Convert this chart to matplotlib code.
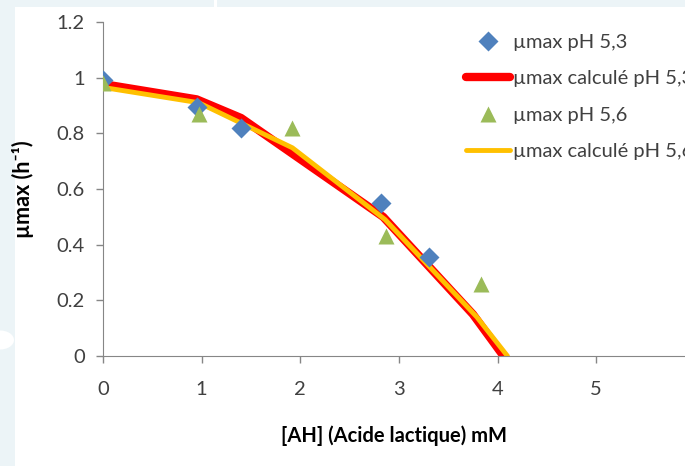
import matplotlib.pyplot as plt
from matplotlib.patches import Rectangle, Circle

# ---------- data ----------
x_ph53 = [0, 0.95, 1.40, 2.82, 3.30]
mu_ph53 = [0.99, 0.895, 0.82, 0.55, 0.355]

x_ph56 = [0, 0.97, 1.92, 2.87, 3.83]
mu_ph56 = [0.98, 0.87, 0.82, 0.43, 0.26]

x_calc53 = [0, 0.95, 1.40, 2.84, 3.75, 4.06]
mu_calc53 = [0.977, 0.922, 0.855, 0.50, 0.15, 0.0]

x_calc56 = [0, 0.97, 1.92, 2.86, 3.79, 4.10]
mu_calc56 = [0.965, 0.91, 0.748, 0.49, 0.14, 0.0]

labels = ['µmax pH 5,3', 'µmax calculé pH 5,3', 'µmax pH 5,6', 'µmax calculé pH 5,6']
x_ticks = [0, 1, 2, 3, 4, 5]
y_ticks = [0, 0.2, 0.4, 0.6, 0.8, 1.0, 1.2]
y_ticklabels = ['0', '0.2', '0.4', '0.6', '0.8', '1', '1.2']

plt.rcParams['font.family'] = ['Lato', 'DejaVu Sans']

W, H = 685, 466
fig = plt.figure(figsize=(W / 100, H / 100), dpi=100, facecolor='#ecf4f7')

# white chart area on the light slide background
fig.patches.append(Rectangle((15 / W, 0), 1, 1 - 7 / H, transform=fig.transFigure,
                             facecolor='white', edgecolor='none', zorder=0))
fig.patches.append(Rectangle((214 / W, 1 - 7 / H), 3 / W, 7 / H, transform=fig.transFigure,
                             facecolor='white', edgecolor='none', zorder=0))
fig.patches.append(Circle((0, 1 - 340 / H), 14 / W, transform=fig.transFigure,
                          facecolor='white', edgecolor='none', zorder=0))

ax = fig.add_axes([103 / W, 1 - 356 / H, 1 - 103 / W, (356 - 22) / H])
ax.set_zorder(2)
ax.set_facecolor('none')

ax.plot(x_calc53, mu_calc53, color='#ff0000', lw=6, solid_capstyle='round',
        solid_joinstyle='round', zorder=2, label=labels[1])
ax.plot(x_calc56, mu_calc56, color='#ffc000', lw=3.5, solid_capstyle='round',
        solid_joinstyle='round', zorder=2.1, label=labels[3])
ax.plot(x_ph53, mu_ph53, 'D', color='#4f81bd', ms=10, mec='none', zorder=3, label=labels[0])
ax.plot(x_ph56, mu_ph56, '^', color='#9bbb59', ms=12, mec='none', zorder=3.1, label=labels[2])

ax.set_xlim(0, 5.9)
ax.set_ylim(0, 1.2)
ax.set_xticks(x_ticks)
ax.set_yticks(y_ticks)
ax.set_yticklabels(y_ticklabels)
ax.tick_params(colors='#868686', labelcolor='#404040', labelsize=14.5, length=5, width=1)
ax.tick_params(axis='x', pad=13)
ax.tick_params(axis='y', pad=8)

for side in ['top', 'right']:
    ax.spines[side].set_visible(False)
for side in ['left', 'bottom']:
    ax.spines[side].set_color('#868686')
    ax.spines[side].set_clip_on(False)

ax.set_xlabel('[AH] (Acide lactique) mM', fontsize=14.5, fontweight='bold', labelpad=20)
ax.set_ylabel('µmax (h⁻¹)', fontsize=15.5, fontweight='bold', labelpad=16)

handles, labs = ax.get_legend_handles_labels()
order = [labs.index(l) for l in labels]
leg = ax.legend([handles[i] for i in order], [labs[i] for i in order],
                loc='upper left', bbox_to_anchor=(458 / W, 1 - 26 / H),
                bbox_transform=fig.transFigure, frameon=False, fontsize=14.5,
                handlelength=2.2, handletextpad=0.15, labelspacing=0.95,
                borderaxespad=0)
for t in leg.get_texts():
    t.set_color('#404040')

fig.savefig('out.png', dpi=100, facecolor=fig.get_facecolor())
